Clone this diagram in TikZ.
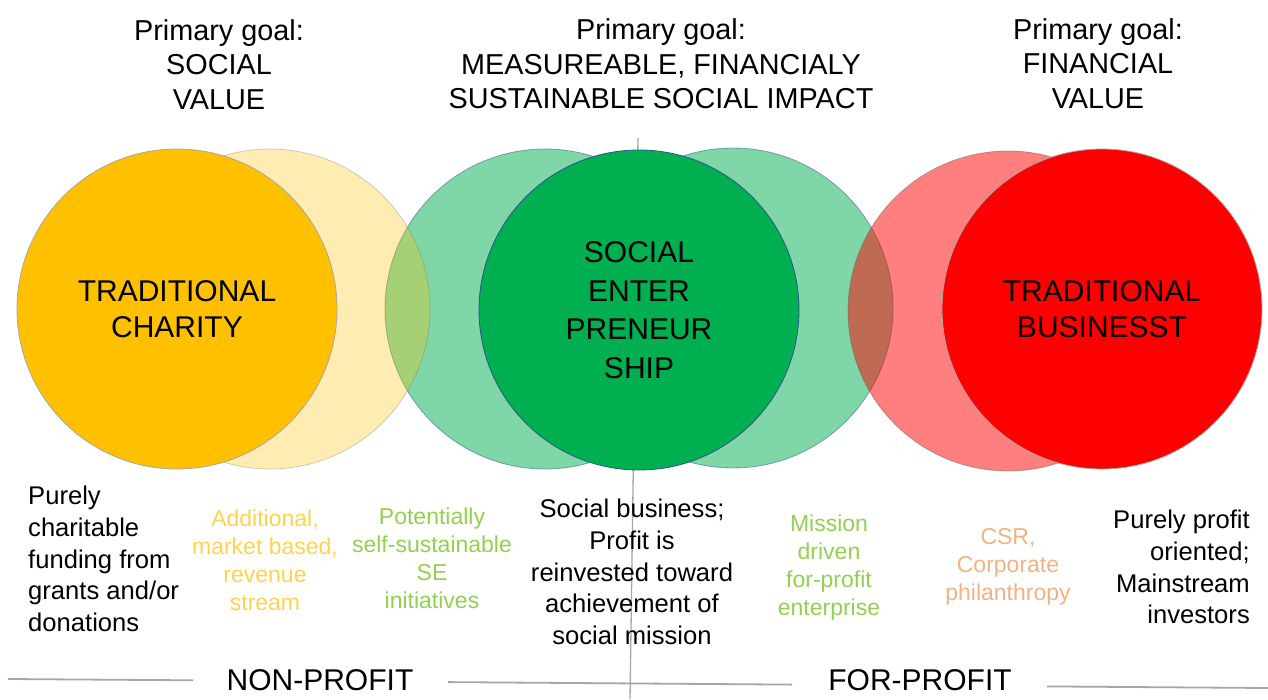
\documentclass[tikz,border=0pt]{standalone}
\usepackage{fontspec}
\setmainfont{Liberation Sans}
\definecolor{gold}{HTML}{FFC000}
\definecolor{segreen}{HTML}{00B050}
\definecolor{bizred}{HTML}{FF0000}
\definecolor{rimblue}{HTML}{2F528F}
\definecolor{axisgray}{HTML}{A6A6A6}
\definecolor{goldtext}{HTML}{FFD24D}
\definecolor{greentext}{HTML}{92D050}
\definecolor{salmontext}{HTML}{F4B183}
\begin{document}
\begin{tikzpicture}[x=1pt,y=-1pt,
  disc/.style={circle,inner sep=0pt,minimum size=320pt,line width=0.8pt,align=center,
    font=\fontsize{30}{36}\selectfont},
  ghost/.style={disc,opacity=0.5,draw=rimblue},
  goal/.style={align=center,font=\fontsize{28.8}{34.5}\selectfont},
  note/.style={inner sep=0pt,font=\fontsize{25.6}{31.8}\selectfont},
  hint/.style={inner sep=0pt,align=center,font=\fontsize{23}{28}\selectfont},
  sector/.style={font=\fontsize{30}{36}\selectfont},
  axis/.style={draw=axisgray,line width=1.8pt},
]
\useasboundingbox (0,0) rectangle (1268,699);

% axes behind the circles
\coordinate (vtop) at (638,138);
\coordinate (vbot) at (630,699);
\draw[axisgray,line width=1.3pt] (vtop) -- (vbot);
\coordinate (h0) at (8,679);
\coordinate (h1) at (193,680.3);
\coordinate (h2) at (448,682.1);
\coordinate (h3) at (792,684.6);
\coordinate (h4) at (1047,686.4);
\coordinate (h5) at (1268,688);
\draw[axis] (h0) -- (h1);
\draw[axis] (h2) -- (h3);
\draw[axis] (h4) -- (h5);

% headings
\node[goal] (g1) at (219,64.5) {Primary goal:\\SOCIAL\\VALUE};
\node[goal] (g2) at (661,64) {Primary goal:\\MEASUREABLE, FINANCIALY\\SUSTAINABLE SOCIAL IMPACT};
\node[goal] (g3) at (1098,63.5) {Primary goal:\\FINANCIAL\\VALUE};

% circles
\node[ghost,fill=segreen] (segl) at (545,309) {};
\node[disc,fill=gold,opacity=0.3,draw=black!60] (charx) at (270,309) {};
\node[disc,fill=gold,draw=black!35] (charity) at (177,309) {TRADITIONAL\\CHARITY};
\node[ghost,fill=segreen] (segr) at (733,308) {};
\node[disc,fill=segreen,draw=rimblue,font=\fontsize{30}{38.5}\selectfont] (se) at (639,310) {SOCIAL\\ENTER\\PRENEUR\\SHIP};
\node[disc,fill=bizred,opacity=0.5,draw=black!60] (bizx) at (1008,311) {};
\node[disc,fill=bizred,draw=black!35] (biz) at (1102,309) {TRADITIONAL\\BUSINESST};

% descriptions
\node[note,anchor=west,align=left] (d1) at (28,559) {Purely\\charitable\\funding from\\grants and/or\\donations};
\node[hint,text=goldtext] (d2) at (265,560) {Additional,\\market based,\\revenue\\stream};
\node[hint,text=greentext] (d3) at (432,558.5) {Potentially\\self-sustainable\\SE\\initiatives};
\node[note,align=center] (d4) at (632,572) {Social business;\\Profit is\\reinvested toward\\achievement of\\social mission};
\node[hint,text=greentext] (d5) at (829,568) {Mission\\driven\\for-profit\\enterprise};
\node[hint,text=salmontext] (d6) at (1008,567) {CSR,\\Corporate\\philanthropy};
\node[note,anchor=east,align=right] (d7) at (1250,567) {Purely profit\\oriented;\\Mainstream\\investors};

% sectors
\node[sector] (np) at (320,680) {NON-PROFIT};
\node[sector] (fp) at (920,680) {FOR-PROFIT};
\end{tikzpicture}
\end{document}
